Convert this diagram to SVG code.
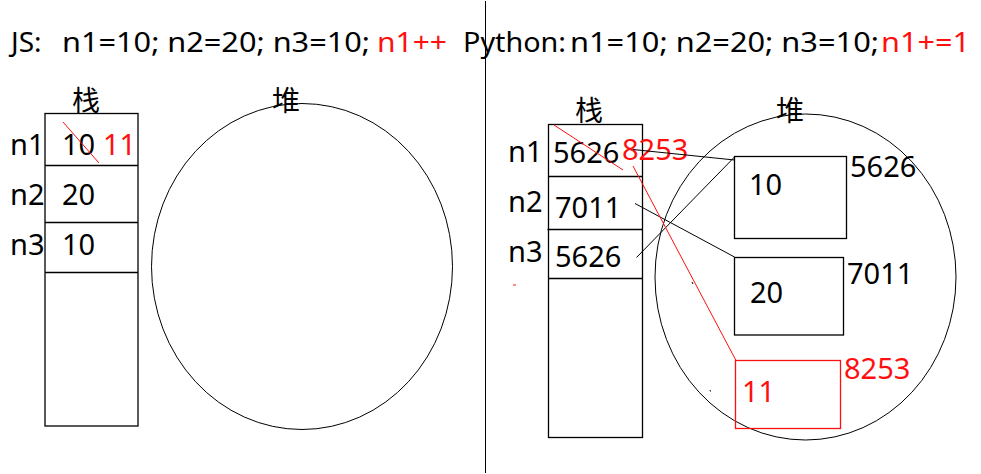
<svg xmlns="http://www.w3.org/2000/svg" width="981" height="474" viewBox="0 0 981 474">
<style>
  .t { font-family: "Noto Sans", "Open Sans", "Liberation Sans", sans-serif; fill: #000; }
  .title { font-size: 28px; }
  .cell { font-size: 29px; }
  .red { fill: #ff1010; }
  .cjk { font-family: "Noto Sans CJK SC", "Noto Sans", sans-serif; font-size: 28px; fill: #000; }
  .box { fill: none; stroke: #000; stroke-width: 1.3; }
  .rbox { fill: none; stroke: #ff1010; stroke-width: 1.3; }
  .ln { fill: none; stroke: #000; stroke-width: 1; }
  .rln { fill: none; stroke: #ff1010; stroke-width: 1; }
</style>
<rect width="981" height="474" fill="#fff"/>

<g id="titles">
  <text class="t title" x="11" y="52">JS:</text>
  <text class="t title" x="62" y="52" textLength="308" lengthAdjust="spacingAndGlyphs">n1=10; n2=20; n3=10;</text>
  <text class="t title red" x="377" y="52" textLength="70" lengthAdjust="spacingAndGlyphs">n1++</text>
  <text class="t title" x="463" y="52" textLength="103" lengthAdjust="spacingAndGlyphs">Python:</text>
  <text class="t title" x="570" y="52" textLength="309" lengthAdjust="spacingAndGlyphs">n1=10; n2=20; n3=10;</text>
  <text class="t title red" x="881" y="52" textLength="89" lengthAdjust="spacingAndGlyphs">n1+=1</text>
</g>

<line id="divider" class="ln" x1="485.5" y1="1" x2="485.5" y2="473"/>

<g id="js-stack">
  <text class="cjk" x="72" y="111">栈</text>
  <rect class="box" x="45" y="113.5" width="93" height="312.5"/>
  <line class="box" x1="45" y1="165.5" x2="138" y2="165.5"/>
  <line class="box" x1="45" y1="222.5" x2="138" y2="222.5"/>
  <line class="box" x1="45" y1="272.5" x2="138" y2="272.5"/>
  <text class="t cell" x="10" y="155">n1</text>
  <text class="t cell" x="62" y="155">10</text>
  <text class="t cell red" x="103" y="155">11</text>
  <text class="t cell" x="10" y="205">n2</text>
  <text class="t cell" x="62" y="205">20</text>
  <text class="t cell" x="10" y="255">n3</text>
  <text class="t cell" x="62" y="255">10</text>
  <line class="rln" x1="63" y1="122" x2="99" y2="163"/>
</g>

<g id="js-heap">
  <ellipse class="ln" cx="302" cy="266.5" rx="150.5" ry="163"/>
  <text class="cjk" x="272" y="111">堆</text>
</g>

<g id="py-stack">
  <text class="cjk" x="575" y="121">栈</text>
  <rect class="box" x="548.5" y="124.5" width="94" height="313"/>
  <line class="box" x1="548.5" y1="176.5" x2="642.5" y2="176.5"/>
  <line class="box" x1="547.5" y1="229.5" x2="643" y2="229.5"/>
  <line class="box" x1="548.5" y1="278.5" x2="642.5" y2="278.5"/>
  <text class="t cell" x="508" y="161.5">n1</text>
  <text class="t cell" x="553" y="162.5">5626</text>
  <text class="t cell red" x="622" y="159.5">8253</text>
  <text class="t cell" x="508" y="211.5">n2</text>
  <text class="t cell" x="555" y="217.5">7011</text>
  <text class="t cell" x="508" y="261.5">n3</text>
  <text class="t cell" x="555" y="266.5">5626</text>
  <line class="rln" x1="554" y1="125" x2="623" y2="170"/>
  <line class="rln" x1="513" y1="285" x2="516" y2="285"/>
</g>

<g id="py-heap">
  <ellipse class="ln" cx="805.5" cy="277" rx="150.5" ry="163"/>
  <text class="cjk" x="776" y="121">堆</text>
  <line class="ln" x1="692" y1="282" x2="693" y2="284"/>
  <line class="ln" x1="710" y1="390" x2="710.5" y2="391.5"/>
</g>

<g id="obj-10">
  <rect class="box" x="734.5" y="156.5" width="112" height="82"/>
  <text class="t cell" x="749" y="195">10</text>
  <text class="t cell" x="850" y="177">5626</text>
</g>

<g id="obj-20">
  <rect class="box" x="734.5" y="257.5" width="109" height="77.5"/>
  <text class="t cell" x="750" y="303">20</text>
  <text class="t cell" x="847" y="284">7011</text>
</g>

<g id="obj-11">
  <rect class="rbox" x="735.5" y="360.5" width="105" height="68"/>
  <text class="t cell red" x="742" y="402">11</text>
  <text class="t cell red" x="844" y="379">8253</text>
</g>

<g id="connectors">
  <line class="ln" x1="633" y1="149.5" x2="734.5" y2="160"/>
  <line class="ln" x1="635" y1="203.5" x2="734.5" y2="257"/>
  <line class="ln" x1="636.5" y1="257.5" x2="734.5" y2="157"/>
  <line class="rln" x1="633" y1="166" x2="736" y2="360.5"/>
</g>
</svg>
